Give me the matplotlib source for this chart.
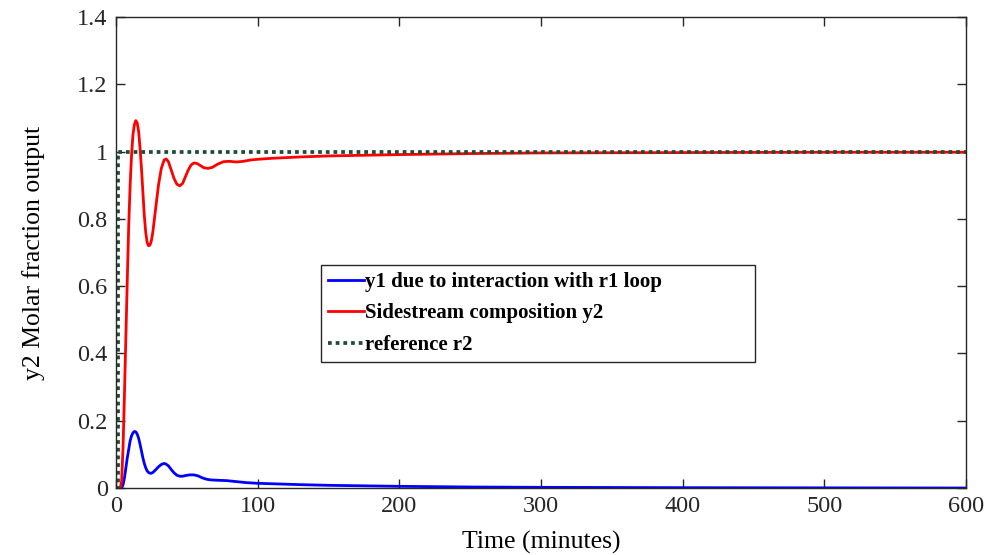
import matplotlib
matplotlib.use("Agg")
import matplotlib.pyplot as plt

# Time axis (minutes) and responses
t_y2 = [0, 3, 4, 5, 6, 7, 8, 9, 10, 11, 12, 13, 14, 15, 16, 17, 18, 19, 20, 21,
        22, 23, 24, 25, 26, 28, 30, 32, 34, 35.5, 37, 39, 41, 43, 45, 47, 49,
        51, 53, 55, 57, 59, 62, 65, 68, 72, 76, 80, 85, 90, 95, 100, 110, 120,
        130, 150, 175, 200, 250, 300, 400, 500, 600]
y2 = [0, 0, 0.02, 0.12, 0.28, 0.45, 0.62, 0.78, 0.90, 0.99, 1.05, 1.08, 1.092,
      1.085, 1.06, 1.01, 0.95, 0.88, 0.81, 0.76, 0.73, 0.72, 0.722, 0.735,
      0.76, 0.83, 0.90, 0.95, 0.975, 0.978, 0.97, 0.945, 0.92, 0.903, 0.898,
      0.905, 0.925, 0.945, 0.96, 0.966, 0.965, 0.96, 0.952, 0.950, 0.953,
      0.963, 0.970, 0.971, 0.969, 0.971, 0.975, 0.977, 0.980, 0.982, 0.984,
      0.987, 0.989, 0.991, 0.994, 0.996, 0.997, 0.998, 0.998]

t_y1 = [0, 4, 5, 6, 7, 8, 9, 10, 11, 12, 13, 14, 15, 16, 17, 18, 19, 20, 21,
        22, 23, 24, 25, 26, 28, 30, 32, 34, 35, 37, 39, 41, 43, 45, 47, 49, 52,
        55, 58, 61, 64, 67, 72, 78, 85, 92, 100, 115, 130, 150, 200, 250, 300,
        400, 500, 600]
y1 = [0, 0, 0.01, 0.03, 0.06, 0.09, 0.115, 0.14, 0.155, 0.164, 0.168, 0.167,
      0.160, 0.148, 0.13, 0.11, 0.09, 0.073, 0.06, 0.051, 0.046, 0.044, 0.044,
      0.046, 0.054, 0.063, 0.07, 0.073, 0.072, 0.066, 0.055, 0.045, 0.038,
      0.035, 0.035, 0.037, 0.039, 0.039, 0.036, 0.03, 0.026, 0.024, 0.023,
      0.022, 0.019, 0.016, 0.014, 0.012, 0.010, 0.008, 0.005, 0.003, 0.002,
      0.001, 0.0005, 0.0]

t_r2 = [0, 1.5, 1.5, 600]
r2 = [0, 0, 1, 1]

labels = ["y1 due to interaction with r1 loop",
          "Sidestream composition y2",
          "reference r2"]

plt.rcParams['font.family'] = ['Liberation Serif', 'DejaVu Serif']

fig = plt.figure(figsize=(9.92, 5.55), dpi=100)
ax = fig.add_axes([0.1169, 0.1207, 0.8569, 0.8487])

ax.plot(t_y1, y1, color='#0000ff', lw=2.0, label=labels[0])
ax.plot(t_y2, y2, color='#ff0000', lw=2.0, label=labels[1])
ax.plot(t_r2, r2, color='#1d4d36', lw=2.7, linestyle=(0, (1, 1.05)),
        label=labels[2])

ax.set_xlim(0, 600)
ax.set_ylim(0, 1.4)
ax.set_xticks([0, 100, 200, 300, 400, 500, 600])
ax.set_yticks([0, 0.2, 0.4, 0.6, 0.8, 1.0, 1.2, 1.4])
ax.set_yticklabels(["0", "0.2", "0.4", "0.6", "0.8", "1", "1.2", "1.4"])
ax.tick_params(direction='in', top=True, right=True, length=6.5, width=1.0,
               labelsize=17.5, colors='#262626', pad=6)
for sp in ax.spines.values():
    sp.set_color('#262626')
    sp.set_linewidth(1.0)

ax.set_xlabel("Time (minutes)", fontsize=18.5, color='#000000', labelpad=10)
ax.set_ylabel("y2 Molar fraction output", fontsize=18.5, color='#000000',
              labelpad=23)

leg = ax.legend(loc='center', bbox_to_anchor=(0.241, 0.265, 0.511, 0.211),
                mode='expand', borderaxespad=0, fancybox=False, framealpha=1,
                edgecolor='#262626', handlelength=1.7, handletextpad=0.05,
                borderpad=0.35, labelspacing=0.55,
                prop={'weight': 'bold', 'size': 15})
leg.get_frame().set_linewidth(1.0)

fig.savefig("out.png", dpi=100)
